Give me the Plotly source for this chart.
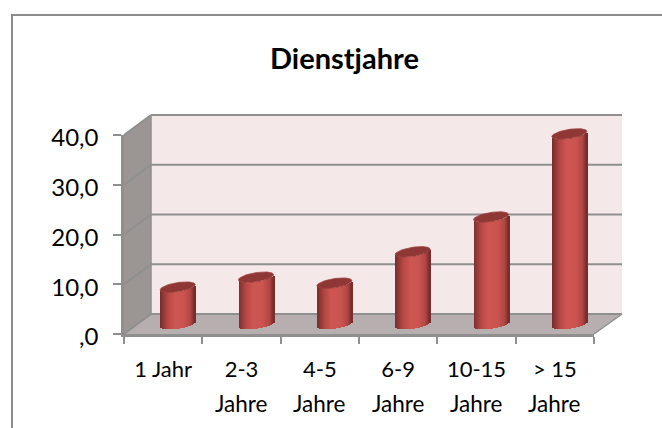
import plotly.graph_objects as go
import numpy as np

categories = ["1 Jahr", "2-3", "4-5", "6-9", "10-15", "> 15"]
second_line = ["", "Jahre", "Jahre", "Jahre", "Jahre", "Jahre"]
values = [7.4, 9.4, 8.2, 14.5, 21.5, 38.2]
y_ticks = [0, 10, 20, 30, 40]
y_labels = [",0", "10,0", "20,0", "30,0", "40,0"]
title = "Dienstjahre"

W, H = 662, 428
X0, X1, Y0, Y40 = 124, 594, 334, 135
DX, DY = 27, 20
MX, MY = 14.5, 10
PX = lambda x: x / W
PY = lambda y: 1 - y / H
UNIT = (Y0 - Y40) / 40
CATW = (X1 - X0) / 6
A, B, TILT = 17.5, 4.6, 2.6
WIDTH = 2 * A / CATW
# pixel extent of the cylinder plane (mid depth of the 3D box)
PLANE_BOTTOM, PLANE_TOP = 360, 90
PLANE_ZERO = Y0 - MY

fig = go.Figure()

anchors_t = [-1.0, -0.88, -0.55, -0.15, 0.35, 0.75, 0.92, 1.0]
anchors_rgb = np.array([[118, 46, 44], [134, 52, 50], [182, 72, 69], [206, 86, 82],
                        [204, 84, 80], [176, 70, 67], [130, 50, 48], [112, 44, 42]], float)

fig.add_trace(go.Scatter(x=categories, y=[None] * 6, mode="markers", xaxis="x", yaxis="y",
                         showlegend=False, hoverinfo="skip"))

N = 36
idx = np.arange(6)
for i in range(N):
    t = -1 + 2 * (i + 0.5) / N
    rgb = [int(round(np.interp(t, anchors_t, anchors_rgb[:, c]))) for c in range(3)]
    off = (TILT * t - B * np.sqrt(max(1 - t * t, 0))) / UNIT
    fig.add_trace(go.Bar(
        x=idx, y=values, base=[off] * 6,
        width=[WIDTH / N * 1.15] * 6,
        offset=[(-1 + 2 * i / N) * WIDTH / 2] * 6,
        marker=dict(color=f"rgb({rgb[0]},{rgb[1]},{rgb[2]})", line=dict(width=0)),
        xaxis="x2", yaxis="y2", showlegend=False, hoverinfo="skip"))

th = np.linspace(0, 2 * np.pi, 61)
for k, v in enumerate(values):
    ct = np.cos(th)
    fig.add_trace(go.Scatter(
        x=k + ct * WIDTH / 2,
        y=v + (TILT * ct + B * np.sin(th)) / UNIT,
        mode="lines", fill="toself", fillcolor="#8e3735",
        line=dict(color="#a04341", width=0.8),
        xaxis="x2", yaxis="y2", showlegend=False, hoverinfo="skip"))

GRID = "#8f8f8f"
def poly(pts, fill, line=None, w=0):
    d = "M" + " L".join(f"{PX(x):.5f},{PY(y):.5f}" for x, y in pts) + " Z"
    return dict(type="path", xref="paper", yref="paper", path=d, fillcolor=fill,
                line=dict(color=line or fill, width=w), layer="below")
def seg(x0, y0, x1, y1, c=GRID, w=2):
    return dict(type="line", xref="paper", yref="paper", x0=PX(x0), y0=PY(y0), x1=PX(x1), y1=PY(y1),
                line=dict(color=c, width=w), layer="below")

shapes = [
    dict(type="rect", xref="paper", yref="paper", x0=PX(12), x1=PX(680), y0=PY(445), y1=PY(15),
         line=dict(color="#8c8c8c", width=2), fillcolor="white", layer="below"),
    poly([(X0 + DX, Y40 - DY), (X1 + DX + 1, Y40 - DY), (X1 + DX + 1, Y0 - DY), (X0 + DX, Y0 - DY)], "#f4e8e8"),
    poly([(X0, Y40), (X0 + DX, Y40 - DY), (X0 + DX, Y0 - DY), (X0, Y0)], "#9b9593"),
    poly([(X0, Y0), (X0 + DX, Y0 - DY), (X1 + DX + 1, Y0 - DY), (X1, Y0)], "#b7afaf"),
]
for v in y_ticks:
    y = Y0 - v * UNIT
    shapes.append(seg(X0 + DX, y - DY, X1 + DX + 1, y - DY))
    shapes.append(seg(X0, y, X0 + DX, y - DY))
shapes.append(seg(X0 + DX, Y40 - DY, X0 + DX, Y0 - DY, "#8f8f8f", 1.5))
shapes.append(seg(X1, Y0, X1 + DX + 1, Y0 - DY, "#8f8f8f", 1.5))

FONT = "Lato, sans-serif"
annotations = [dict(text=f"<b>{title}</b>", xref="paper", yref="paper", x=PX(344), y=PY(58),
                    xanchor="center", yanchor="middle", showarrow=False,
                    font=dict(size=29, family=FONT, color="black"))]
for c, s in zip(categories, second_line):
    if s:
        annotations.append(dict(text=s, xref="x", yref="paper", x=c, y=PY(403),
                                xanchor="center", yanchor="middle", showarrow=False,
                                font=dict(size=22.5, family=FONT, color="black")))

fig.update_layout(
    width=W, height=H, autosize=False,
    margin=dict(l=0, r=0, t=0, b=0),
    paper_bgcolor="white", plot_bgcolor="rgba(0,0,0,0)",
    barmode="overlay", bargap=0, showlegend=False,
    shapes=shapes,
    font=dict(family=FONT, color="black"),
    xaxis=dict(domain=[PX(X0), PX(X1)], type="category", categoryorder="array", automargin=False,
               categoryarray=categories, tickmode="array", tickvals=categories, ticktext=categories,
               range=[-0.5, 5.5], anchor="y",
               tickson="boundaries", ticks="outside", ticklen=7, tickwidth=2, tickcolor=GRID,
               showline=True, linecolor=GRID, linewidth=2.5, showgrid=False, zeroline=False,
               ticklabelstandoff=14,
               tickfont=dict(size=22, family=FONT), tickangle=0, fixedrange=True),
    yaxis=dict(domain=[PY(Y0), PY(Y40)], range=[0, 40], tickmode="array", tickvals=y_ticks, ticktext=y_labels,
               ticks="outside", ticklen=8, tickwidth=2, tickcolor=GRID, automargin=False, anchor="x",
               showline=True, linecolor=GRID, linewidth=2.5, showgrid=False, zeroline=False,
               ticklabelstandoff=10, ticklabelshift=3,
               tickfont=dict(size=24, family=FONT), fixedrange=True),
    xaxis2=dict(domain=[PX(X0 + MX), PX(X1 + MX)], range=[-0.5, 5.5], visible=False, anchor="y2",
                fixedrange=True, automargin=False),
    yaxis2=dict(domain=[PY(PLANE_BOTTOM), PY(PLANE_TOP)],
                range=[(PLANE_ZERO - PLANE_BOTTOM) / UNIT, (PLANE_ZERO - PLANE_TOP) / UNIT],
                visible=False, anchor="x2", fixedrange=True, automargin=False),
    annotations=annotations,
)
fig.write_html("out.html", config={"displayModeBar": False},
               post_script="document.body.style.margin='0';document.body.style.overflow='hidden';")
